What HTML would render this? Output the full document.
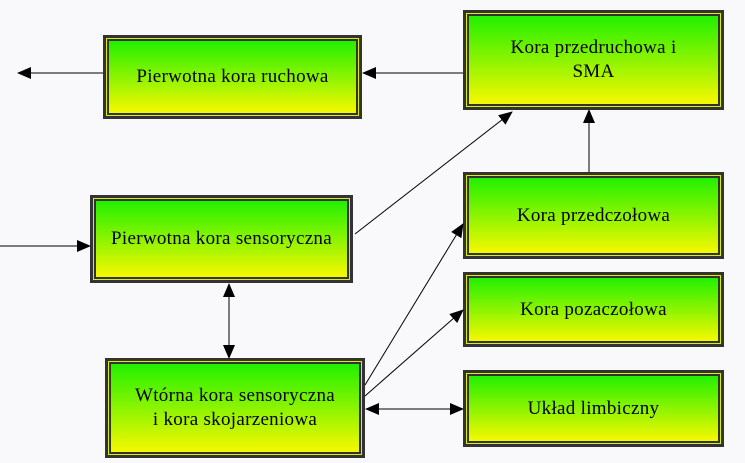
<!DOCTYPE html><html><head><style>
body{margin:0;width:745px;height:463px;background:#f9f9fc;position:relative;overflow:hidden;font-family:"Liberation Serif",serif}
.b{position:absolute;box-sizing:border-box;border:3px solid #333;background:#d8f000;padding:1px}
.b>div{width:100%;height:100%;box-sizing:border-box;border:2px solid #333;background:linear-gradient(#22f000,#f6f800);display:flex;align-items:center;justify-content:center;text-align:center;font-size:19px;letter-spacing:0.3px;line-height:24px;color:#000}
svg{position:absolute;left:0;top:0}
</style></head><body>
<div class="b" style="left:103px;top:35px;width:259px;height:84px"><div>Pierwotna kora ruchowa</div></div>
<div class="b" style="left:463px;top:10px;width:261px;height:100px"><div>Kora przedruchowa i<br>SMA</div></div>
<div class="b" style="left:90px;top:195px;width:263px;height:88px"><div>Pierwotna kora sensoryczna</div></div>
<div class="b" style="left:463px;top:172px;width:261px;height:87px"><div>Kora przedczołowa</div></div>
<div class="b" style="left:463px;top:272px;width:261px;height:75px"><div>Kora pozaczołowa</div></div>
<div class="b" style="left:463px;top:370px;width:261px;height:77px"><div>Układ limbiczny</div></div>
<div class="b" style="left:105px;top:358px;width:260px;height:100px"><div>Wtórna kora sensoryczna<br>i kora skojarzeniowa</div></div>
<svg width="745" height="463">
<defs><marker id="a" markerWidth="14" markerHeight="12" refX="13" refY="6" orient="auto" markerUnits="userSpaceOnUse"><path d="M0,0L14,6L0,12z" fill="#000"/></marker>
<marker id="s" markerWidth="14" markerHeight="12" refX="1" refY="6" orient="auto" markerUnits="userSpaceOnUse"><path d="M14,0L0,6L14,12z" fill="#000"/></marker></defs>
<g stroke="#000" stroke-width="1" fill="none">
<line x1="103" y1="73" x2="18" y2="73" marker-end="url(#a)"/>
<line x1="463" y1="73" x2="363" y2="73" marker-end="url(#a)"/>
<line x1="589" y1="172" x2="589" y2="110" marker-end="url(#a)"/>
<line x1="0" y1="246" x2="90" y2="246" marker-end="url(#a)"/>
<line x1="355" y1="234" x2="512" y2="112" marker-end="url(#a)"/>
<line x1="229" y1="284" x2="229" y2="358" marker-start="url(#s)" marker-end="url(#a)"/>
<line x1="365" y1="385" x2="463" y2="224" marker-end="url(#a)"/>
<line x1="365" y1="396" x2="463" y2="310" marker-end="url(#a)"/>
<line x1="366" y1="409" x2="463" y2="409" marker-start="url(#s)" marker-end="url(#a)"/>
</g></svg>
</body></html>
